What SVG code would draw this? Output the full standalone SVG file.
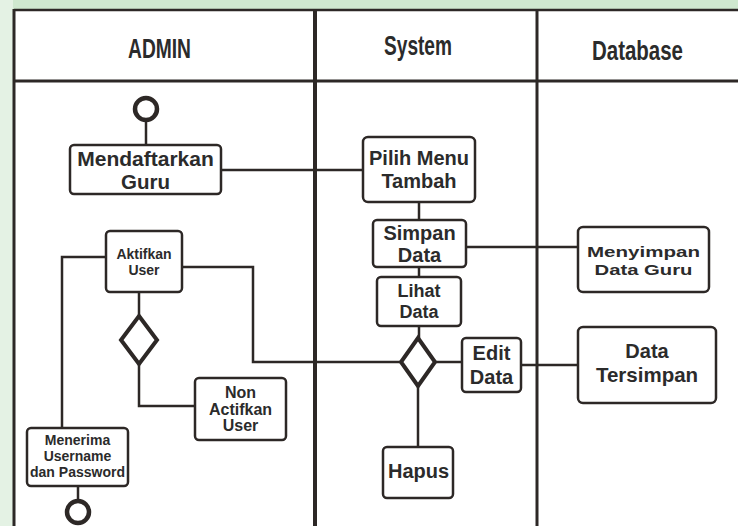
<svg xmlns="http://www.w3.org/2000/svg" width="738" height="526" viewBox="0 0 738 526">
<defs>
<style>
.lane{stroke:#2d2826;fill:none}
.box{fill:#ffffff;stroke:#2d2826;stroke-width:2.5}
.dia{fill:#ffffff;stroke:#2d2826;stroke-width:4;stroke-linejoin:miter}
.term{fill:none;stroke:#2d2826;stroke-width:4.5}
.con{fill:none;stroke:#2d2826;stroke-width:2.5}
text{font-family:"Liberation Sans",Arial,sans-serif;font-weight:bold;fill:#2b2b2b;text-anchor:middle}
.hdr{font-size:28px}
</style>
</defs>
<rect x="0" y="0" width="738" height="526" fill="#ffffff"/>
<rect x="0" y="0" width="738" height="10" fill="#cfe8cf"/>
<rect x="0" y="0" width="13" height="526" fill="#e4f2e4"/>
<g id="swimlanes">
<line class="lane" x1="14" y1="10" x2="738" y2="10" stroke-width="2.5"/>
<line class="lane" x1="14" y1="81" x2="738" y2="81" stroke-width="3"/>
<line class="lane" x1="14" y1="9" x2="14" y2="526" stroke-width="3"/>
<line class="lane" x1="315" y1="9" x2="315" y2="526" stroke-width="4"/>
<line class="lane" x1="537" y1="9" x2="537" y2="526" stroke-width="3"/>
<text class="hdr" x="159.5" y="58" textLength="63" lengthAdjust="spacingAndGlyphs">ADMIN</text>
<text class="hdr" x="418" y="55" textLength="68" lengthAdjust="spacingAndGlyphs">System</text>
<text class="hdr" x="637.5" y="60" textLength="91" lengthAdjust="spacingAndGlyphs">Database</text>
</g>
<g id="connectors">
<line class="con" x1="146" y1="121" x2="146" y2="145"/>
<line class="con" x1="221" y1="170" x2="363" y2="170"/>
<line class="con" x1="419" y1="202" x2="419" y2="220"/>
<line class="con" x1="466" y1="247" x2="578" y2="247"/>
<line class="con" x1="419" y1="267" x2="419" y2="277"/>
<line class="con" x1="419" y1="326" x2="419" y2="338"/>
<line class="con" x1="436" y1="362" x2="462" y2="362"/>
<line class="con" x1="521" y1="365" x2="578" y2="365"/>
<line class="con" x1="418" y1="386" x2="418" y2="447"/>
<polyline class="con" points="182,267 253,267 253,362 401,362"/>
<polyline class="con" points="106,257 62,257 62,428"/>
<line class="con" x1="139" y1="292" x2="139" y2="316"/>
<polyline class="con" points="139,364 139,406 195,406"/>
<line class="con" x1="78" y1="486" x2="78" y2="500"/>
</g>
<g id="start">
<circle class="term" cx="146" cy="109" r="11"/>
</g>
<g id="mendaftarkan">
<rect class="box" x="70" y="145" width="151" height="49" rx="4"/>
<text x="145.5" y="166" font-size="21">Mendaftarkan</text>
<text x="145.5" y="189" font-size="20.5">Guru</text>
</g>
<g id="pilih-menu">
<rect class="box" x="363" y="137" width="112" height="65" rx="5"/>
<text x="419" y="165" font-size="20">Pilih Menu</text>
<text x="419" y="188" font-size="20">Tambah</text>
</g>
<g id="simpan-data">
<rect class="box" x="373" y="220" width="93" height="47" rx="4"/>
<text x="419.5" y="240" font-size="20">Simpan</text>
<text x="419.5" y="262" font-size="20">Data</text>
</g>
<g id="menyimpan">
<rect class="box" x="578" y="227" width="131" height="65" rx="5"/>
<text x="643.5" y="257" font-size="15" textLength="113" lengthAdjust="spacingAndGlyphs">Menyimpan</text>
<text x="643.5" y="275" font-size="15" textLength="98" lengthAdjust="spacingAndGlyphs">Data Guru</text>
</g>
<g id="lihat-data">
<rect class="box" x="377" y="277" width="84" height="49" rx="4"/>
<text x="419" y="297" font-size="18">Lihat</text>
<text x="419" y="318" font-size="18">Data</text>
</g>
<g id="decision-system">
<polygon class="dia" points="418,338 435,362 418,386 401,362"/>
</g>
<g id="edit-data">
<rect class="box" x="462" y="338" width="59" height="54" rx="4"/>
<text x="491.5" y="360" font-size="20">Edit</text>
<text x="491.5" y="384" font-size="20">Data</text>
</g>
<g id="data-tersimpan">
<rect class="box" x="578" y="327" width="138" height="76" rx="5"/>
<text x="647" y="358" font-size="20">Data</text>
<text x="647" y="382" font-size="20.5">Tersimpan</text>
</g>
<g id="hapus">
<rect class="box" x="383" y="447" width="70" height="51" rx="4"/>
<text x="418.5" y="478" font-size="20">Hapus</text>
</g>
<g id="aktifkan-user">
<rect class="box" x="106" y="231" width="76" height="61" rx="4"/>
<text x="144" y="259" font-size="14">Aktifkan</text>
<text x="144" y="275" font-size="14">User</text>
</g>
<g id="decision-admin">
<polygon class="dia" points="139,316 157,340 139,364 121,340"/>
</g>
<g id="non-aktifkan">
<rect class="box" x="195" y="378" width="91" height="62" rx="4"/>
<text x="240.5" y="398" font-size="16">Non</text>
<text x="240.5" y="415" font-size="16">Actifkan</text>
<text x="240.5" y="431" font-size="16">User</text>
</g>
<g id="menerima">
<rect class="box" x="27" y="428" width="101" height="58" rx="4"/>
<text x="77.5" y="445" font-size="14">Menerima</text>
<text x="77.5" y="461" font-size="14">Username</text>
<text x="77.5" y="477" font-size="14">dan Password</text>
</g>
<g id="end">
<circle class="term" cx="78" cy="512" r="11"/>
</g>
</svg>
